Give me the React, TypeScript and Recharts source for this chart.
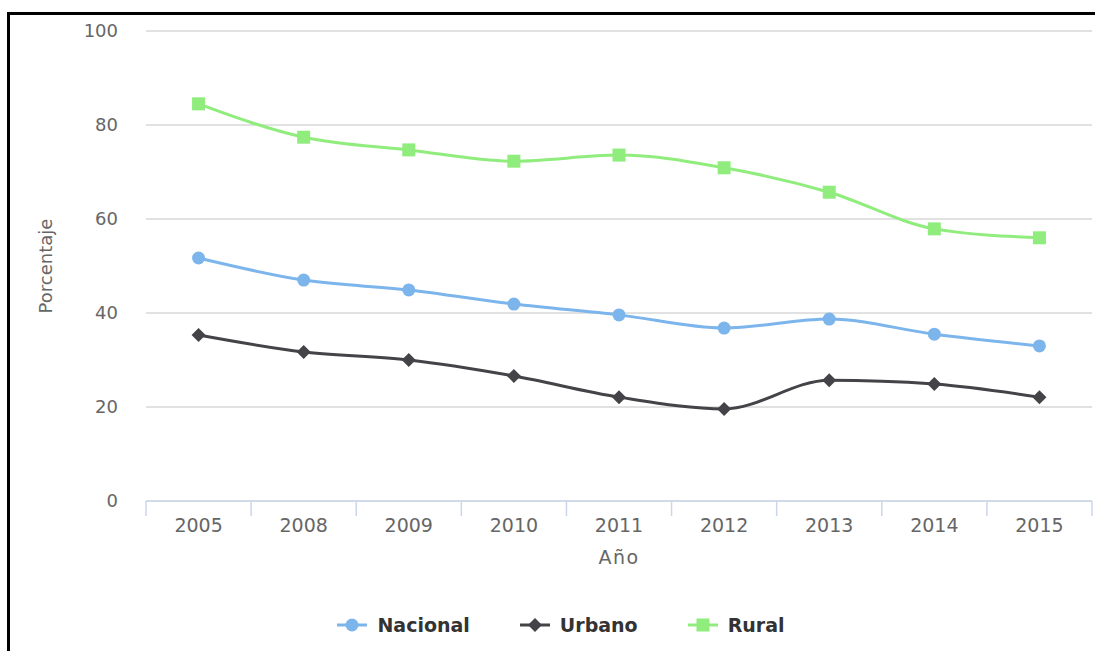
import React from 'react';
import { LineChart, Line, XAxis, YAxis, CartesianGrid, Legend } from 'recharts';

const years = ['2005', '2008', '2009', '2010', '2011', '2012', '2013', '2014', '2015'];
const nacional = [51.7, 47.0, 44.9, 41.9, 39.6, 36.8, 38.7, 35.5, 33.0];
const urbano = [35.3, 31.7, 30.0, 26.6, 22.1, 19.6, 25.7, 24.9, 22.1];
const rural = [84.5, 77.4, 74.7, 72.3, 73.6, 70.9, 65.7, 57.9, 56.0];
const yTicks = [0, 20, 40, 60, 80, 100];

const C_NAC = '#7cb5ec';
const C_URB = '#434348';
const C_RUR = '#90ed7d';
const AXIS_C = '#ccd6eb';
const FONT = '"DejaVu Sans", Verdana, sans-serif';

const data = years.map((year, i) => ({
  year,
  Nacional: nacional[i],
  Urbano: urbano[i],
  Rural: rural[i],
}));

const CircleDot = (p: any) => (
  <circle key={`c-${p.index}`} cx={p.cx} cy={p.cy} r={6.5} fill={C_NAC} />
);
const DiamondDot = (p: any) => (
  <path
    key={`d-${p.index}`}
    d={`M${p.cx},${p.cy - 7}L${p.cx + 7},${p.cy}L${p.cx},${p.cy + 7}L${p.cx - 7},${p.cy}Z`}
    fill={C_URB}
  />
);
const SquareDot = (p: any) => (
  <rect key={`s-${p.index}`} x={p.cx - 6.5} y={p.cy - 6.5} width={13} height={13} fill={C_RUR} />
);

// Category tick: label at band centre, tick mark at band edge (Highcharts style)
const XTick = (p: any) => {
  const { x, y, payload, index } = p;
  const half = payload && typeof payload.offset === 'number' ? payload.offset : 0;
  return (
    <g>
      <line x1={x - half} x2={x - half} y1={y - 18} y2={y - 3} stroke={AXIS_C} strokeWidth={1.5} />
      {index === years.length - 1 && (
        <line x1={x + half} x2={x + half} y1={y - 18} y2={y - 3} stroke={AXIS_C} strokeWidth={1.5} />
      )}
      <text x={x} y={y} dy="0.71em" textAnchor="middle" fill="#666666" fontSize={19} fontFamily={FONT}>
        {payload.value}
      </text>
    </g>
  );
};

const legendItems = [
  { name: 'Nacional', color: C_NAC, shape: 'circle' },
  { name: 'Urbano', color: C_URB, shape: 'diamond' },
  { name: 'Rural', color: C_RUR, shape: 'square' },
];

const LegendIcon = ({ color, shape }: { color: string; shape: string }) => (
  <svg width={30} height={16} style={{ display: 'block' }}>
    <line x1={0} y1={8} x2={30} y2={8} stroke={color} strokeWidth={3} />
    {shape === 'circle' && <circle cx={15} cy={8} r={6.5} fill={color} />}
    {shape === 'diamond' && <path d="M15,1L22,8L15,15L8,8Z" fill={color} />}
    {shape === 'square' && <rect x={8.5} y={1.5} width={13} height={13} fill={color} />}
  </svg>
);

const CustomLegend = () => (
  <div
    style={{
      display: 'flex',
      justifyContent: 'center',
      alignItems: 'center',
      paddingLeft: 27,
      height: 26,
      fontFamily: FONT,
      fontWeight: 'bold',
      fontSize: 19,
      color: '#333333',
    }}
  >
    {legendItems.map((it, i) => (
      <div
        key={it.name}
        style={{ display: 'flex', alignItems: 'center', marginLeft: i === 0 ? 0 : 50 }}
      >
        <LegendIcon color={it.color} shape={it.shape} />
        <span style={{ marginLeft: 10 }}>{it.name}</span>
      </div>
    ))}
  </div>
);

export default function App() {
  return (
    <div style={{ position: 'fixed', left: 0, top: 0, width: 1095, height: 651, background: '#fff' }}>
      <LineChart
        width={1095}
        height={651}
        data={data}
        margin={{ top: 31, right: 3, left: 0, bottom: 75 }}
        style={{ fontFamily: FONT }}
      >
        <CartesianGrid horizontal={true} vertical={false} stroke="#c4c4c4" horizontalValues={yTicks} />
        <XAxis
          dataKey="year"
          type="category"
          scale="band"
          interval={0}
          height={75}
          tickSize={0}
          tickMargin={18}
          axisLine={{ stroke: AXIS_C, strokeWidth: 1.5 }}
          tickLine={false}
          tick={<XTick />}
          label={{
            value: 'Año',
            position: 'insideBottom',
            offset: 12,
            fill: '#666666',
            fontSize: 19,
            fontFamily: FONT,
            style: { letterSpacing: 1.5 },
          }}
        />
        <YAxis
          type="number"
          domain={[0, 100]}
          ticks={yTicks}
          interval={0}
          width={146}
          tickSize={0}
          tickMargin={28}
          axisLine={false}
          tickLine={false}
          tick={{ fill: '#666666', fontSize: 18, fontFamily: FONT }}
          label={{
            value: 'Porcentaje',
            angle: -90,
            position: 'insideLeft',
            offset: 46,
            fill: '#666666',
            fontSize: 18,
            fontFamily: FONT,
            style: { textAnchor: 'middle' },
          }}
        />
        <Legend
          verticalAlign="middle"
          align="center"
          layout="horizontal"
          wrapperStyle={{ top: 612, left: 0, width: 1095 }}
          content={<CustomLegend />}
        />
        <Line
          type="monotone"
          dataKey="Nacional"
          stroke={C_NAC}
          strokeWidth={3}
          dot={CircleDot}
          activeDot={false}
          isAnimationActive={false}
        />
        <Line
          type="monotone"
          dataKey="Urbano"
          stroke={C_URB}
          strokeWidth={3}
          dot={DiamondDot}
          activeDot={false}
          isAnimationActive={false}
        />
        <Line
          type="monotone"
          dataKey="Rural"
          stroke={C_RUR}
          strokeWidth={3}
          dot={SquareDot}
          activeDot={false}
          isAnimationActive={false}
        />
      </LineChart>
      <div style={{ position: 'absolute', left: 7, top: 12, width: 1088, height: 3, background: '#000', pointerEvents: 'none' }} />
      <div style={{ position: 'absolute', left: 7, top: 12, width: 3, height: 639, background: '#000', pointerEvents: 'none' }} />
    </div>
  );
}
